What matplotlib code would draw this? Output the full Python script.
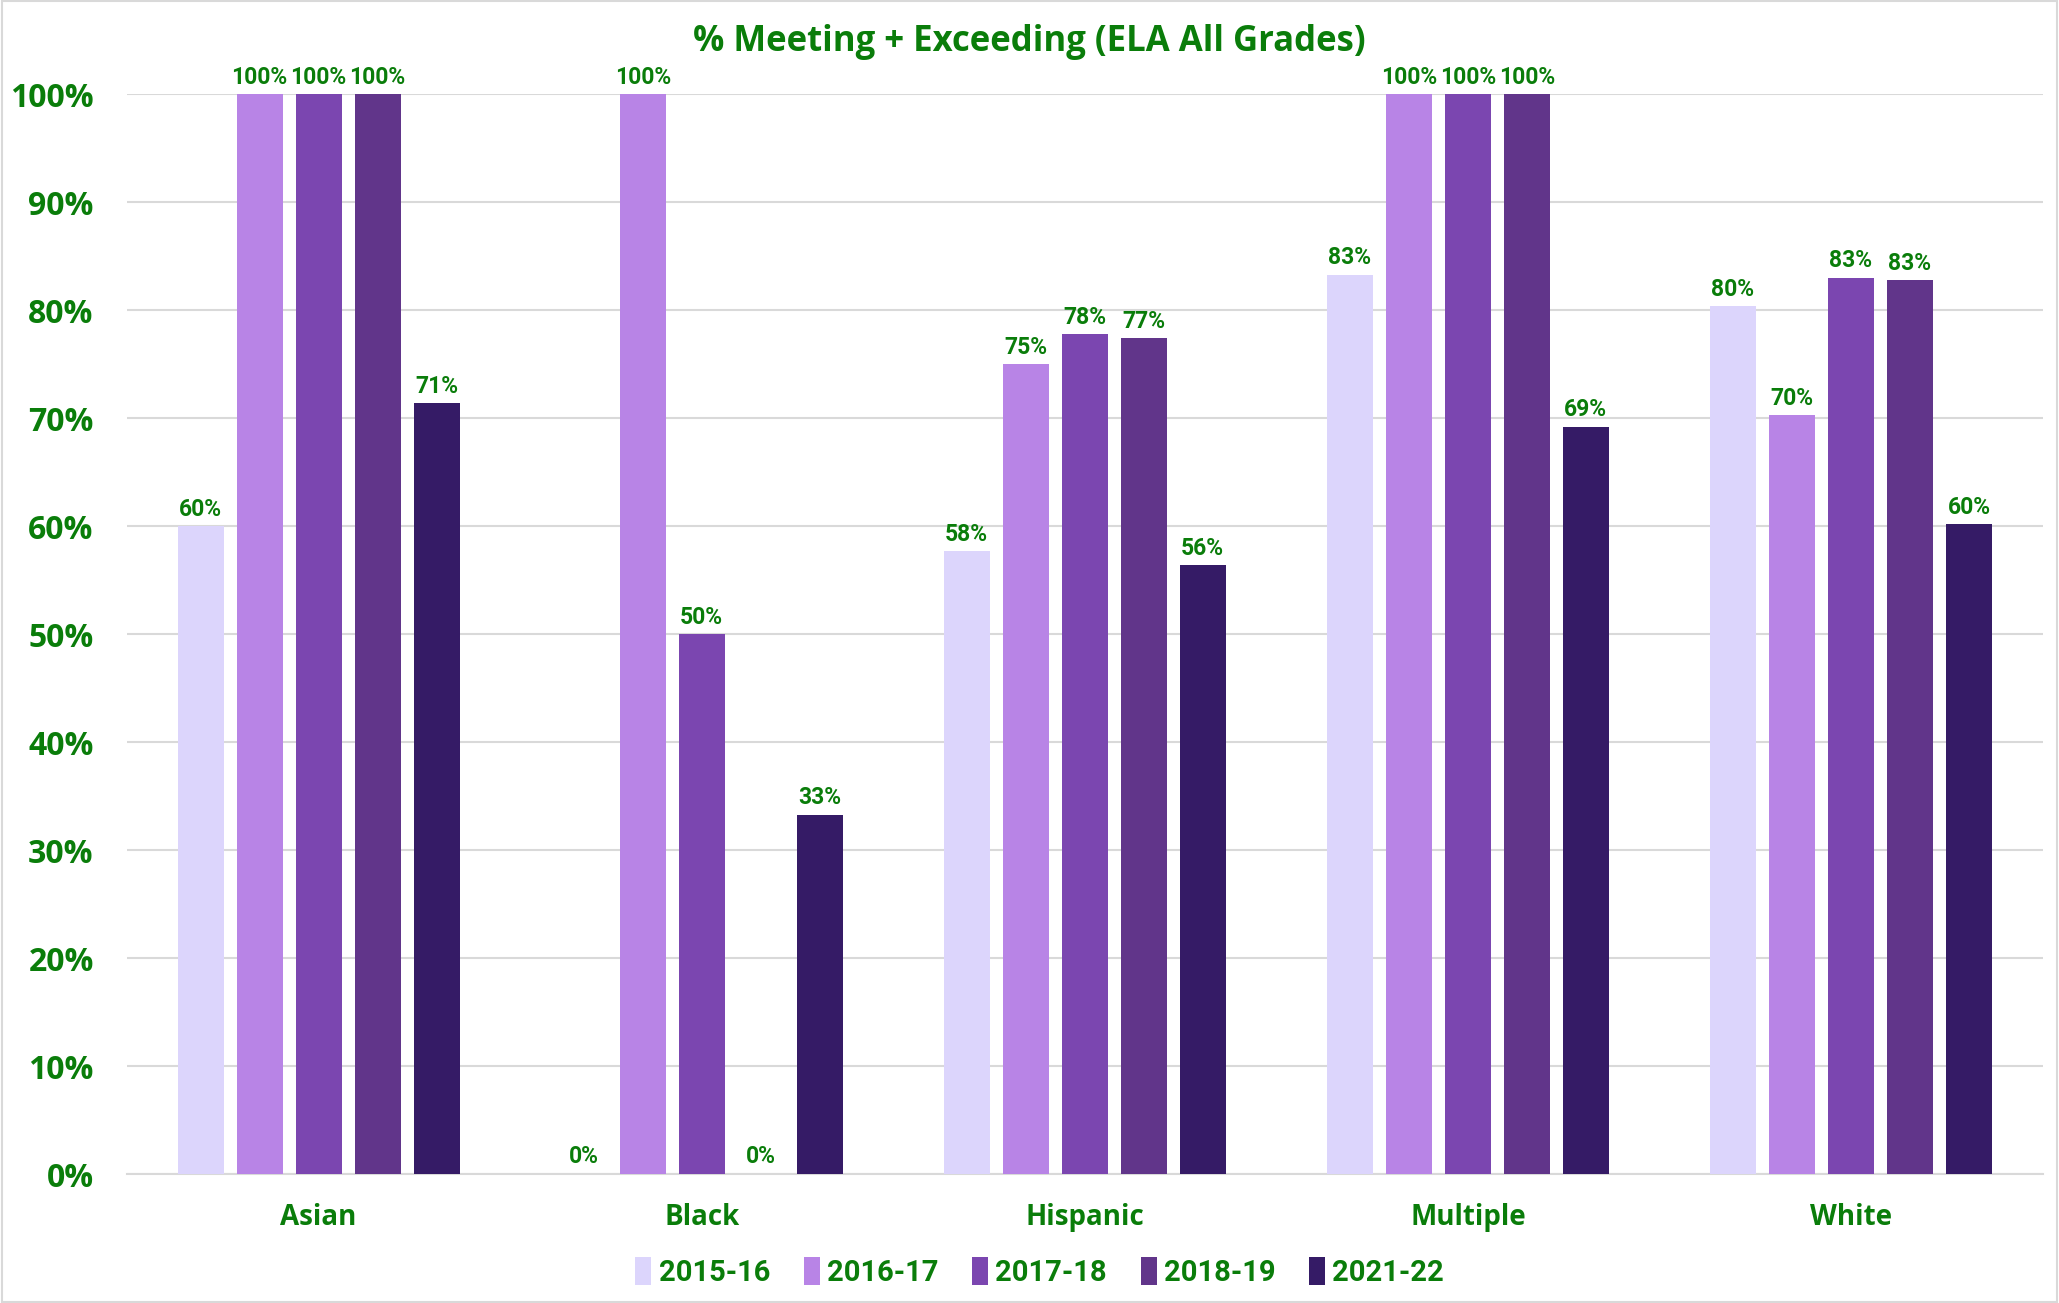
import matplotlib.pyplot as plt
import numpy as np
from matplotlib.patches import Rectangle

# data
groups = ['Asian', 'Black', 'Hispanic', 'Multiple', 'White']
years = ['2015-16', '2016-17', '2017-18', '2018-19', '2021-22']
pct_2015 = [60.0, 0.0, 57.7, 83.3, 80.4]
pct_2016 = [100.0, 100.0, 75.0, 100.0, 70.3]
pct_2017 = [100.0, 50.0, 77.8, 100.0, 83.0]
pct_2018 = [100.0, 0.0, 77.4, 100.0, 82.8]
pct_2021 = [71.4, 33.3, 56.4, 69.2, 60.2]
series = [pct_2015, pct_2016, pct_2017, pct_2018, pct_2021]

colors = ['#dcd5fc', '#b884e6', '#7b46b0', '#61358a', '#351b66']
green = '#0a7d0a'
narrow = ['Roboto', 'DejaVu Sans']

fig = plt.figure(figsize=(20.59, 13.03), dpi=100)
ax = fig.add_axes([0.0617, 0.099, 0.9303, 0.8285])

x = np.arange(len(groups))
width = 0.12
step = 0.154
for i, (vals, col, yr) in enumerate(zip(series, colors, years)):
    pos = x + (i - 2) * step
    bars = ax.bar(pos, vals, width, color=col, label=yr, zorder=3)
    for b, v in zip(bars, vals):
        ax.annotate(f'{v:.0f}%', (b.get_x() + b.get_width() / 2, v),
                    xytext=(0, 4), textcoords='offset points',
                    ha='center', va='bottom', color=green, fontsize=16.5,
                    fontweight='bold', family=narrow, annotation_clip=False)

ax.set_xlim(-0.5, 4.5)
ax.set_ylim(0, 100)
ax.set_yticks(range(0, 101, 10))
ax.set_yticklabels([f'{t}%' for t in range(0, 101, 10)])
ax.set_xticks(x)
ax.set_xticklabels(groups)
ax.tick_params(axis='y', length=0, pad=24, labelsize=23, labelcolor=green)
ax.tick_params(axis='x', length=0, pad=21, labelsize=20, labelcolor=green)
for lab in ax.get_yticklabels() + ax.get_xticklabels():
    lab.set_fontweight('bold')
    lab.set_family('Open Sans')

ax.grid(axis='y', color='#d9d9d9', linewidth=1.5, zorder=0)
for s in ['top', 'right', 'left']:
    ax.spines[s].set_visible(False)
ax.spines['bottom'].set_color('#d9d9d9')
ax.spines['bottom'].set_linewidth(1.5)

fig.text(0.5, 0.968, '% Meeting + Exceeding (ELA All Grades)', ha='center', va='center',
         color=green, fontsize=25, fontweight='bold', family='Open Sans')

leg = fig.legend(loc='center', bbox_to_anchor=(0.505, 0.024), ncol=5, frameon=False,
                 handlelength=0.55, handleheight=1.1, handletextpad=0.25,
                 columnspacing=1.15, prop={'family': narrow, 'weight': 'bold', 'size': 21})
for t in leg.get_texts():
    t.set_color(green)

fig.patches.append(Rectangle((0.001, 0.001), 0.998, 0.998, transform=fig.transFigure,
                             fill=False, edgecolor='#d9d9d9', linewidth=1.5))

plt.savefig('out.png', dpi=100)
plt.close()
